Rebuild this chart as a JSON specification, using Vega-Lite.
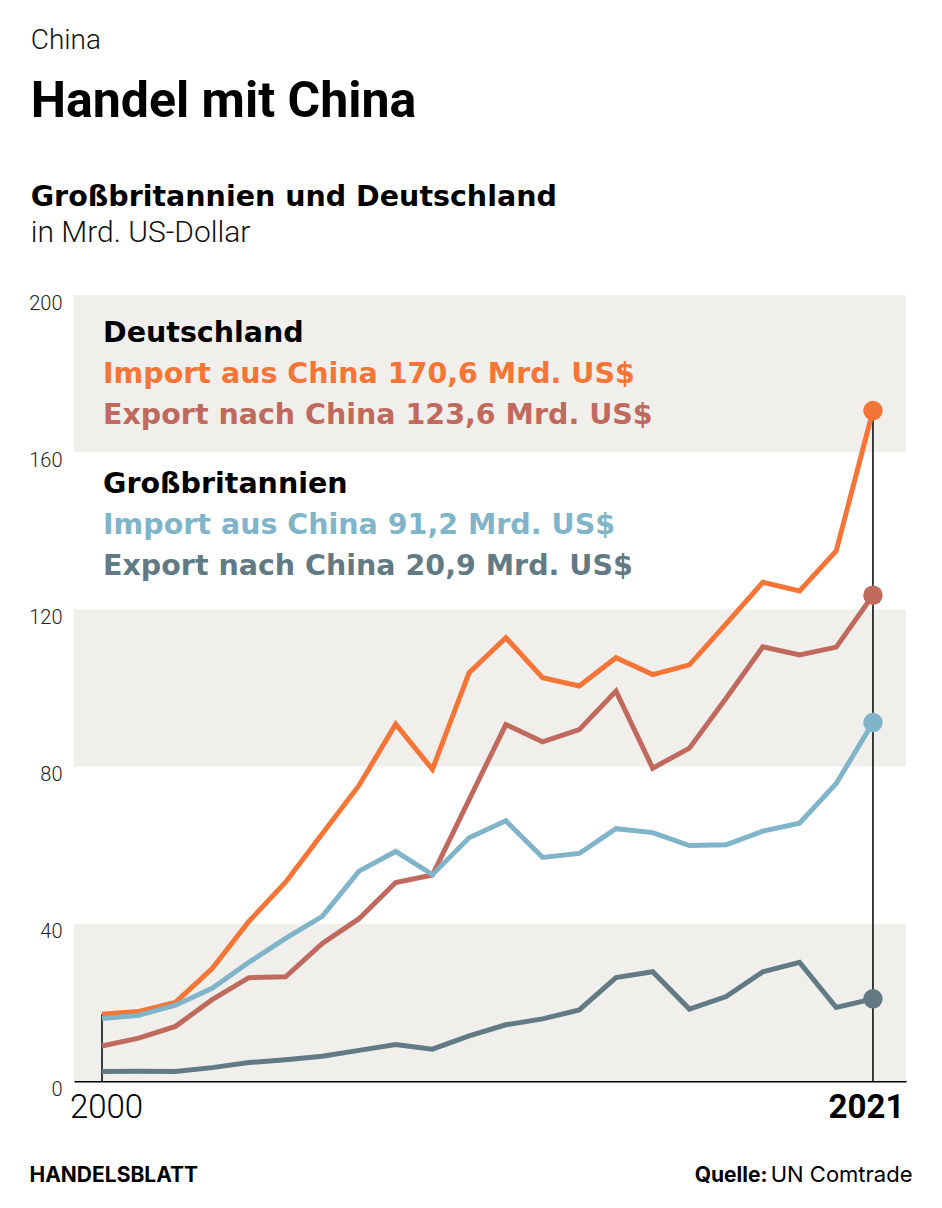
{
  "$schema": "https://vega.github.io/schema/vega-lite/v6.json",
  "background": "white",
  "padding": {"left": 28, "top": 26, "right": 0, "bottom": 0},
  "title": {
    "text": "China",
    "subtitle": "Handel mit China",
    "anchor": "start",
    "font": "Roboto", "fontSize": 28, "fontWeight": 300, "color": "#111",
    "subtitleFont": "Roboto",
    "subtitleFontSize": 50, "subtitleFontWeight": "bold", "subtitleColor": "#000",
    "subtitlePadding": 22, "offset": 56, "dx": 2
  },
  "datasets": {
    "trade": [
      {"year": 2000, "series": "DE Import", "value": 17.0},
      {"year": 2001, "series": "DE Import", "value": 17.7},
      {"year": 2002, "series": "DE Import", "value": 20.0},
      {"year": 2003, "series": "DE Import", "value": 28.6},
      {"year": 2004, "series": "DE Import", "value": 40.6},
      {"year": 2005, "series": "DE Import", "value": 50.6},
      {"year": 2006, "series": "DE Import", "value": 62.9},
      {"year": 2007, "series": "DE Import", "value": 75.2},
      {"year": 2008, "series": "DE Import", "value": 90.8},
      {"year": 2009, "series": "DE Import", "value": 79.3},
      {"year": 2010, "series": "DE Import", "value": 103.9},
      {"year": 2011, "series": "DE Import", "value": 112.8},
      {"year": 2012, "series": "DE Import", "value": 102.6},
      {"year": 2013, "series": "DE Import", "value": 100.5},
      {"year": 2014, "series": "DE Import", "value": 107.7},
      {"year": 2015, "series": "DE Import", "value": 103.4},
      {"year": 2016, "series": "DE Import", "value": 105.9},
      {"year": 2017, "series": "DE Import", "value": 116.3},
      {"year": 2018, "series": "DE Import", "value": 126.9},
      {"year": 2019, "series": "DE Import", "value": 124.7},
      {"year": 2020, "series": "DE Import", "value": 134.9},
      {"year": 2021, "series": "DE Import", "value": 170.6},
      {"year": 2000, "series": "DE Export", "value": 8.9},
      {"year": 2001, "series": "DE Export", "value": 10.9},
      {"year": 2002, "series": "DE Export", "value": 13.9},
      {"year": 2003, "series": "DE Export", "value": 20.7},
      {"year": 2004, "series": "DE Export", "value": 26.3},
      {"year": 2005, "series": "DE Export", "value": 26.5},
      {"year": 2006, "series": "DE Export", "value": 35.0},
      {"year": 2007, "series": "DE Export", "value": 41.3},
      {"year": 2008, "series": "DE Export", "value": 50.5},
      {"year": 2009, "series": "DE Export", "value": 52.4},
      {"year": 2010, "series": "DE Export", "value": 71.6},
      {"year": 2011, "series": "DE Export", "value": 90.7},
      {"year": 2012, "series": "DE Export", "value": 86.3},
      {"year": 2013, "series": "DE Export", "value": 89.4},
      {"year": 2014, "series": "DE Export", "value": 99.2},
      {"year": 2015, "series": "DE Export", "value": 79.6},
      {"year": 2016, "series": "DE Export", "value": 84.7},
      {"year": 2017, "series": "DE Export", "value": 97.4},
      {"year": 2018, "series": "DE Export", "value": 110.5},
      {"year": 2019, "series": "DE Export", "value": 108.4},
      {"year": 2020, "series": "DE Export", "value": 110.4},
      {"year": 2021, "series": "DE Export", "value": 123.6},
      {"year": 2000, "series": "UK Import", "value": 15.9},
      {"year": 2001, "series": "UK Import", "value": 16.7},
      {"year": 2002, "series": "UK Import", "value": 19.3},
      {"year": 2003, "series": "UK Import", "value": 23.6},
      {"year": 2004, "series": "UK Import", "value": 30.2},
      {"year": 2005, "series": "UK Import", "value": 36.3},
      {"year": 2006, "series": "UK Import", "value": 41.9},
      {"year": 2007, "series": "UK Import", "value": 53.4},
      {"year": 2008, "series": "UK Import", "value": 58.4},
      {"year": 2009, "series": "UK Import", "value": 52.5},
      {"year": 2010, "series": "UK Import", "value": 61.9},
      {"year": 2011, "series": "UK Import", "value": 66.2},
      {"year": 2012, "series": "UK Import", "value": 56.9},
      {"year": 2013, "series": "UK Import", "value": 57.9},
      {"year": 2014, "series": "UK Import", "value": 64.2},
      {"year": 2015, "series": "UK Import", "value": 63.2},
      {"year": 2016, "series": "UK Import", "value": 59.9},
      {"year": 2017, "series": "UK Import", "value": 60.1},
      {"year": 2018, "series": "UK Import", "value": 63.6},
      {"year": 2019, "series": "UK Import", "value": 65.6},
      {"year": 2020, "series": "UK Import", "value": 75.7},
      {"year": 2021, "series": "UK Import", "value": 91.2},
      {"year": 2000, "series": "UK Export", "value": 2.4},
      {"year": 2001, "series": "UK Export", "value": 2.5},
      {"year": 2002, "series": "UK Export", "value": 2.4},
      {"year": 2003, "series": "UK Export", "value": 3.4},
      {"year": 2004, "series": "UK Export", "value": 4.7},
      {"year": 2005, "series": "UK Export", "value": 5.4},
      {"year": 2006, "series": "UK Export", "value": 6.3},
      {"year": 2007, "series": "UK Export", "value": 7.8},
      {"year": 2008, "series": "UK Export", "value": 9.3},
      {"year": 2009, "series": "UK Export", "value": 8.1},
      {"year": 2010, "series": "UK Export", "value": 11.5},
      {"year": 2011, "series": "UK Export", "value": 14.3},
      {"year": 2012, "series": "UK Export", "value": 15.8},
      {"year": 2013, "series": "UK Export", "value": 18.1},
      {"year": 2014, "series": "UK Export", "value": 26.3},
      {"year": 2015, "series": "UK Export", "value": 27.8},
      {"year": 2016, "series": "UK Export", "value": 18.3},
      {"year": 2017, "series": "UK Export", "value": 21.5},
      {"year": 2018, "series": "UK Export", "value": 27.8},
      {"year": 2019, "series": "UK Export", "value": 30.2},
      {"year": 2020, "series": "UK Export", "value": 18.7},
      {"year": 2021, "series": "UK Export", "value": 20.9}
    ],
    "bands": [
      {"lo": 0, "hi": 40},
      {"lo": 80, "hi": 120},
      {"lo": 160, "hi": 200}
    ],
    "legendDE": [
      {"order": 0, "label": "Deutschland", "series": "Deutschland"},
      {"order": 1, "label": "Import aus China 170,6 Mrd. US$", "series": "DE Import"},
      {"order": 2, "label": "Export nach China 123,6 Mrd. US$", "series": "DE Export"}
    ],
    "legendUK": [
      {"order": 0, "label": "Großbritannien", "series": "Großbritannien"},
      {"order": 1, "label": "Import aus China 91,2 Mrd. US$", "series": "UK Import"},
      {"order": 2, "label": "Export nach China 20,9 Mrd. US$", "series": "UK Export"}
    ]
  },
  "vconcat": [
    {
      "width": 832,
      "height": 786,
      "title": {
        "text": "Großbritannien und Deutschland",
        "subtitle": "in Mrd. US-Dollar",
        "anchor": "start",
        "font": "DejaVu Sans", "fontSize": 28.5, "fontWeight": 700, "color": "#000",
        "subtitleFont": "Roboto", "subtitleFontSize": 30, "subtitleFontWeight": 300, "subtitleColor": "#111",
        "subtitlePadding": 7, "offset": 45, "dx": 2
      },
      "layer": [
        {
          "data": {"name": "bands"},
          "mark": {"type": "rect", "color": "#f0efec"},
          "encoding": {
            "x": {
              "datum": 1999.237, "type": "quantitative",
              "scale": {"domain": [1999.237, 2021.9], "nice": false, "zero": false},
              "axis": {
                "values": [2000, 2021], "format": "d",
                "title": "HANDELSBLATT", "titleX": -45, "titleY": 100, "titleAlign": "left", "titleBaseline": "alphabetic", "titleAngle": 0,
                "titleFont": "Inter", "titleFontSize": 21, "titleFontWeight": 700, "titleColor": "#000",
                "domain": true, "domainColor": "#000", "domainWidth": 2,
                "ticks": false, "grid": false,
                "labelPadding": 10, "labelBaseline": "top", "labelFlush": false,
                "labelFont": "Roboto", "labelColor": "#000", "labelFontSize": 33,
                "labelFontWeight": {"condition": {"test": "datum.value == 2021", "value": 700}, "value": 300},
                "labelOffset": {"condition": {"test": "datum.value == 2021", "value": -7}, "value": 4}
              }
            },
            "x2": {"datum": 2021.9},
            "y": {"field": "lo", "type": "quantitative", "scale": {"domain": [0, 200], "nice": false, "zero": true}, "axis": null},
            "y2": {"field": "hi"}
          }
        },
        {
          "data": {"name": "trade"},
          "transform": [{"filter": "datum.series == 'DE Import' && (datum.year == 2000 || datum.year == 2021)"}],
          "mark": {"type": "rule", "color": "#000", "strokeWidth": 1.5},
          "encoding": {
            "x": {"field": "year", "type": "quantitative"},
            "y": {"field": "value", "type": "quantitative", "axis": null},
            "y2": {"datum": 0}
          }
        },
        {
          "data": {"name": "trade"},
          "mark": {"type": "line", "strokeWidth": 5, "strokeJoin": "miter"},
          "encoding": {
            "x": {"field": "year", "type": "quantitative"},
            "y": {
              "field": "value", "type": "quantitative",
              "axis": {
                "values": [0, 40, 80, 120, 160, 200],
                "title": "Quelle:", "titleX": 693, "titleY": 886, "titleAngle": 0, "titleAlign": "right", "titleBaseline": "alphabetic",
                "titleFont": "Inter", "titleFontSize": 21, "titleFontWeight": 700, "titleColor": "#000",
                "domain": false, "ticks": false, "tickSize": 0, "grid": false,
                "labelPadding": 12, "labelBaseline": "top", "labelOffset": -2,
                "labelFont": "Roboto", "labelFontSize": 20, "labelFontWeight": 300, "labelColor": "#222"
              }
            },
            "color": {
              "field": "series", "type": "nominal", "legend": null,
              "scale": {
                "domain": ["DE Import", "DE Export", "UK Import", "UK Export", "Deutschland", "Großbritannien"],
                "range": ["#f47535", "#c06a5e", "#80b4c8", "#627a84", "#000000", "#000000"]
              }
            }
          }
        },
        {
          "data": {"name": "trade"},
          "transform": [{"filter": "datum.year == 2021"}],
          "mark": {"type": "circle", "size": 380, "opacity": 1},
          "encoding": {
            "x": {"field": "year", "type": "quantitative"},
            "y": {
              "field": "value", "type": "quantitative",
              "axis": {
                "orient": "right", "title": "UN Comtrade", "labels": false, "ticks": false, "domain": false, "grid": false,
                "titleX": 6, "titleY": 886, "titleAngle": 0, "titleAlign": "right", "titleBaseline": "alphabetic",
                "titleFont": "Inter", "titleFontSize": 22, "titleFontWeight": 400, "titleColor": "#000"
              }
            },
            "color": {"field": "series", "type": "nominal", "legend": null}
          }
        },
        {
          "data": {"name": "legendDE"},
          "mark": {"type": "text", "align": "left", "baseline": "alphabetic", "font": "DejaVu Sans", "fontSize": 28.5, "fontWeight": 700, "dx": 1},
          "encoding": {
            "x": {"datum": 2000, "type": "quantitative"},
            "y": {"datum": 200, "type": "quantitative", "axis": null},
            "yOffset": {"field": "order", "type": "ordinal", "scale": {"range": [47, 129], "padding": 0}},
            "text": {"field": "label"},
            "color": {"field": "series", "type": "nominal", "legend": null}
          }
        },
        {
          "data": {"name": "legendUK"},
          "mark": {"type": "text", "align": "left", "baseline": "alphabetic", "font": "DejaVu Sans", "fontSize": 28.5, "fontWeight": 700, "dx": 1},
          "encoding": {
            "x": {"datum": 2000, "type": "quantitative"},
            "y": {"datum": 161.5, "type": "quantitative", "axis": null},
            "yOffset": {"field": "order", "type": "ordinal", "scale": {"range": [47, 129], "padding": 0}},
            "text": {"field": "label"},
            "color": {"field": "series", "type": "nominal", "legend": null}
          }
        }
      ],
      "resolve": {"axis": {"y": "independent"}}
    }
  ],
  "config": {
    "view": {"stroke": null},
    "concat": {"spacing": 0},
    "axis": {"grid": false}
  }
}
